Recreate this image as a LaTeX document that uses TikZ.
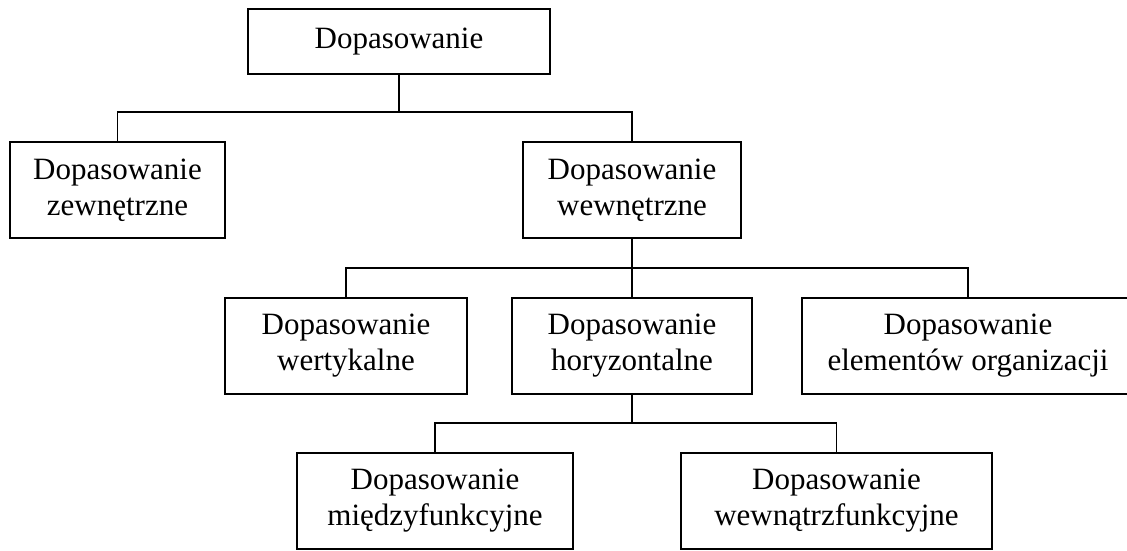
\documentclass[tikz,border=0pt]{standalone}
\usepackage{fontspec}
\setmainfont{Liberation Serif}
\begin{document}
\begin{tikzpicture}[x=1pt,y=-1pt,
  box/.style={draw,line width=1.6pt,align=center,inner sep=0pt,
    minimum height=96pt,font=\fontsize{31}{36}\selectfont},
  link/.style={line width=1.6pt}]
\useasboundingbox (0,0) rectangle (1127,550);
\fill[white] (0,0) rectangle (1127,550);
% tree boxes
\node[box,minimum width=302pt,minimum height=65pt] (root) at (399,41.5) {Dopasowanie};
\node[box,minimum width=215pt] (ext) at (117.5,190) {Dopasowanie\\zewnętrzne};
\node[box,minimum width=218pt] (int) at (632,190) {Dopasowanie\\wewnętrzne};
\node[box,minimum width=242pt] (vert) at (346,346) {Dopasowanie\\wertykalne};
\node[box,minimum width=240pt] (hor) at (632,346) {Dopasowanie\\horyzontalne};
\node[box,minimum width=332pt] (org) at (968,346) {Dopasowanie\\elementów organizacji};
\node[box,minimum width=276pt] (mf) at (435,501) {Dopasowanie\\międzyfunkcyjne};
\node[box,minimum width=311pt] (wf) at (836.5,501) {Dopasowanie\\wewnątrzfunkcyjne};
% connectors
\coordinate (j1) at (399,112);
\coordinate (j2) at (632,268);
\coordinate (j3) at (632,423);
\draw[link] (root.south) -- (j1);
\draw[link] (ext.north) |- (j1) -| (int.north);
\draw[link] (int.south) -- (hor.north);
\draw[link] (vert.north) |- (j2) -| (org.north);
\draw[link] (hor.south) -- (j3);
\draw[link] (mf.north) |- (j3) -| (wf.north);
\end{tikzpicture}
\end{document}
